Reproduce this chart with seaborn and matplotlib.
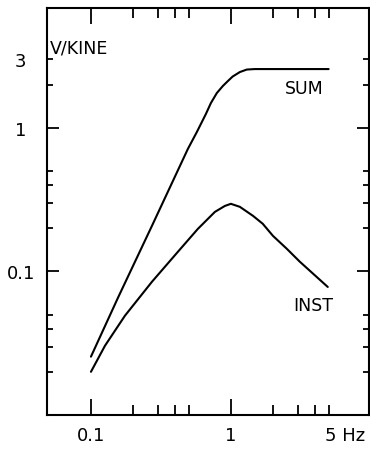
import matplotlib
matplotlib.use('Agg')
import matplotlib.pyplot as plt
import matplotlib.transforms as mtransforms
import pandas as pd
import seaborn as sns

# values (log-log axes)
sum_freq = [0.1, 0.156, 0.273, 0.493, 0.572, 0.663, 0.72, 0.794, 0.877, 0.952,
            1.03, 1.16, 1.3, 1.48, 5.0]
sum_vel = [0.0255, 0.0656, 0.208, 0.714, 0.938, 1.25, 1.49, 1.75, 1.96, 2.12,
           2.28, 2.45, 2.55, 2.57, 2.57]

inst_freq = [0.1, 0.126, 0.175, 0.273, 0.418, 0.581, 0.769, 0.906, 1.0,
             1.16, 1.44, 1.69, 2.0, 2.51, 3.11, 4.93]
inst_vel = [0.020, 0.0304, 0.0492, 0.0848, 0.137, 0.198, 0.26, 0.286, 0.296,
            0.282, 0.244, 0.215, 0.177, 0.144, 0.117, 0.078]

x_major = [0.1, 1]
x_major_labels = ['0.1', '1']
x_minor = [0.2, 0.3, 0.4, 0.5, 2, 3, 4, 5]
x_minor_labels = ['', '', '', '', '', '', '', '5 Hz']

y_major = [0.01, 0.1, 1]
y_major_labels = ['', '0.1', '1']
y_minor = [0.02, 0.03, 0.04, 0.05, 0.2, 0.3, 0.4, 0.5, 2, 3]
y_minor_labels = ['', '', '', '', '', '', '', '', '', '3']

sns.set_style('ticks', {'text.color': 'black', 'xtick.color': 'black',
                        'ytick.color': 'black', 'axes.edgecolor': 'black'})
plt.rcParams['font.family'] = ['DejaVu Sans']

df_sum = pd.DataFrame({'freq': sum_freq, 'vel': sum_vel})
df_inst = pd.DataFrame({'freq': inst_freq, 'vel': inst_vel})

fig = plt.figure(figsize=(3.7, 4.52), dpi=100)
ax = fig.add_axes([0.127, 0.0796, 0.870, 0.9004])

sns.lineplot(data=df_sum, x='freq', y='vel', ax=ax, color='black', linewidth=1.5)
sns.lineplot(data=df_inst, x='freq', y='vel', ax=ax, color='black', linewidth=1.5)

ax.set(xscale='log', yscale='log')
ax.set_xlim(0.0485, 9.7)
ax.set_ylim(0.01, 6.84)

ax.set_xticks(x_major, labels=x_major_labels)
ax.set_xticks(x_minor, labels=x_minor_labels, minor=True)
ax.set_yticks(y_major, labels=y_major_labels)
ax.set_yticks(y_minor, labels=y_minor_labels, minor=True)

ax.tick_params(axis='x', which='major', direction='in', length=11.5, width=1.3,
               top=True, labelsize=13, pad=8)
ax.tick_params(axis='x', which='minor', direction='in', length=7.5, width=1.3,
               top=True, labelsize=13, pad=8)
ax.tick_params(axis='y', which='major', direction='in', length=8.5, width=1.3,
               right=True, labelsize=13, pad=19)
ax.tick_params(axis='y', which='minor', direction='in', length=4.5, width=1.3,
               right=True, labelsize=13, pad=19)

for lab in ax.get_yticklabels() + ax.get_yticklabels(minor=True):
    lab.set_ha('center')

# shift "5 Hz" so the 5 sits on its tick
shift = mtransforms.ScaledTranslation(16 / 100, 0, fig.dpi_scale_trans)
for lab in ax.get_xticklabels(minor=True):
    lab.set_transform(lab.get_transform() + shift)

for sp in ax.spines.values():
    sp.set_linewidth(1.5)

ax.set_xlabel('')
ax.set_ylabel('')

ax.text(0.009, 0.904, 'V/KINE', transform=ax.transAxes, fontsize=12.5,
        ha='left', va='center')
ax.text(0.739, 0.803, 'SUM', transform=ax.transAxes, fontsize=12.5,
        ha='left', va='center')
ax.text(0.764, 0.270, 'INST', transform=ax.transAxes, fontsize=12.5,
        ha='left', va='center')

fig.savefig('out.png', dpi=100)
